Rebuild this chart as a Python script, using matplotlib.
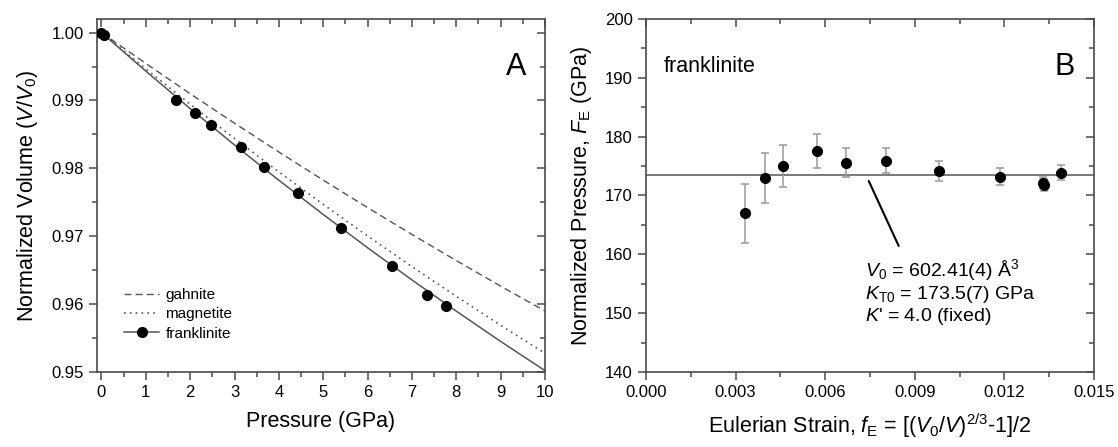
import numpy as np
import matplotlib
matplotlib.use('Agg')
import matplotlib.pyplot as plt
from matplotlib.ticker import MultipleLocator
from matplotlib.lines import Line2D

plt.rcParams['font.family'] = ['Liberation Sans', 'DejaVu Sans']
plt.rcParams['mathtext.fontset'] = 'custom'
plt.rcParams['mathtext.rm'] = 'Liberation Sans'
plt.rcParams['mathtext.it'] = 'Liberation Sans:italic'
plt.rcParams['mathtext.bf'] = 'Liberation Sans:bold'

# panel A: compression curves
pressure_grid = [0, 1, 2, 3, 4, 5, 6, 7, 8, 9, 10]
gahnite = [1.0, 0.99545, 0.99099, 0.98665, 0.98240, 0.97826, 0.97421, 0.97026, 0.96641, 0.96265, 0.95898]
magnetite = [1.0, 0.99465, 0.98945, 0.98439, 0.97947, 0.97469, 0.97004, 0.96552, 0.96114, 0.95688, 0.95275]
franklinite_fit = [1.0, 0.99432, 0.98880, 0.98344, 0.97824, 0.97320, 0.96830, 0.96356, 0.95896, 0.95450, 0.95020]

# franklinite measured
p_obs = [0.0, 0.05, 1.69, 2.11, 2.47, 3.15, 3.66, 4.43, 5.40, 6.54, 7.35, 7.77]
v_obs = [1.0, 0.9997, 0.9901, 0.9882, 0.9864, 0.9832, 0.9802, 0.9763, 0.9712, 0.9656, 0.9614, 0.9597]

# panel B: F-f plot
f_E = [0.00330, 0.00398, 0.00459, 0.00574, 0.00671, 0.00805, 0.00981, 0.01184, 0.01329, 0.01334, 0.01388]
F_E = [167.0, 173.0, 175.0, 177.5, 175.6, 175.9, 174.2, 173.2, 172.2, 171.8, 173.9]
F_err = [5.0, 4.2, 3.6, 2.9, 2.4, 2.1, 1.7, 1.4, 1.0, 1.0, 1.2]
K_T0 = 173.5

spine_col = '#4a4a4a'
fig = plt.figure(figsize=(11.18, 4.47), dpi=100)
axA = fig.add_axes([0.0868, 0.1678, 0.4007, 0.7897])
axB = fig.add_axes([0.5778, 0.1678, 0.4007, 0.7897])

def style(ax):
    for s in ax.spines.values():
        s.set_color(spine_col)
        s.set_linewidth(1.2)
    ax.tick_params(which='both', direction='out', color=spine_col, width=1.1, labelsize=12)
    ax.tick_params(which='major', length=6)
    ax.tick_params(which='minor', length=3.5)
    top = ax.secondary_xaxis('top')
    top.set_xticks(ax.get_xticks(minor=False))
    top.xaxis.set_minor_locator(ax.xaxis.get_minor_locator())
    top.tick_params(which='both', direction='in', labeltop=False, color=spine_col, width=1.1)
    top.tick_params(which='major', length=6)
    top.tick_params(which='minor', length=3.5)
    top.spines['top'].set_visible(False)
    right = ax.secondary_yaxis('right')
    right.set_yticks(ax.get_yticks(minor=False))
    right.yaxis.set_minor_locator(ax.yaxis.get_minor_locator())
    right.tick_params(which='both', direction='in', labelright=False, color=spine_col, width=1.1)
    right.tick_params(which='major', length=6)
    right.tick_params(which='minor', length=3.5)
    right.spines['right'].set_visible(False)

# ---- panel A
axA.plot(pressure_grid, gahnite, ls=(0, (5, 3)), color='#555555', lw=1.0)
axA.plot(pressure_grid, magnetite, ls=(0, (1, 2.5)), color='#555555', lw=1.2)
axA.plot(pressure_grid, franklinite_fit, '-', color='#555555', lw=1.1)
axA.plot(p_obs, v_obs, 'o', color='black', ms=7, zorder=5)
axA.set_xlim(-0.1, 10)
axA.set_ylim(0.95, 1.002)
axA.xaxis.set_major_locator(MultipleLocator(1))
axA.xaxis.set_minor_locator(MultipleLocator(0.5))
axA.yaxis.set_major_locator(MultipleLocator(0.01))
axA.yaxis.set_minor_locator(MultipleLocator(0.005))
axA.yaxis.set_major_formatter(matplotlib.ticker.FormatStrFormatter('%.2f'))
axA.set_xlabel('Pressure (GPa)', fontsize=15.5, labelpad=8)
axA.set_ylabel('Normalized Volume ($V$/$V_0$)', fontsize=15.5, labelpad=8)
axA.text(0.935, 0.865, 'A', transform=axA.transAxes, fontsize=22, ha='center', va='center')
handles = [
    Line2D([], [], ls=(0, (5, 3)), color='#555555', lw=1.0),
    Line2D([], [], ls=(0, (1, 2.5)), color='#555555', lw=1.2),
    Line2D([], [], ls='-', color='#555555', lw=1.1, marker='o', ms=7, mfc='black', mec='black'),
]
axA.legend(handles, ['gahnite', 'magnetite', 'franklinite'], loc='lower left',
           bbox_to_anchor=(0.03, 0.05), frameon=False, fontsize=11, handlelength=2.3,
           handletextpad=0.4, labelspacing=0.35, numpoints=1)
style(axA)

# ---- panel B
axB.axhline(K_T0, color='#6f6f6f', lw=1.3)
axB.errorbar(f_E, F_E, yerr=F_err, fmt='o', color='black', ms=7, ecolor='#9a9a9a',
             elinewidth=1.1, capsize=3, capthick=1.1, zorder=5)
axB.set_xlim(0, 0.015)
axB.set_ylim(140, 200)
axB.xaxis.set_major_locator(MultipleLocator(0.003))
axB.xaxis.set_minor_locator(MultipleLocator(0.0015))
axB.yaxis.set_major_locator(MultipleLocator(10))
axB.yaxis.set_minor_locator(MultipleLocator(5))
axB.xaxis.set_major_formatter(matplotlib.ticker.FormatStrFormatter('%.3f'))
axB.set_xlabel('Eulerian Strain, $f_{\\mathrm{E}}$ = [($V_0$/$V$)$^{2/3}$-1]/2', fontsize=15.5, labelpad=8)
axB.set_ylabel('Normalized Pressure, $F_{\\mathrm{E}}$ (GPa)', fontsize=15.5, labelpad=8)
axB.text(0.04, 0.865, 'franklinite', transform=axB.transAxes, fontsize=15.5, ha='left', va='center')
axB.text(0.935, 0.865, 'B', transform=axB.transAxes, fontsize=22, ha='center', va='center')
axB.annotate('', xy=(0.00742, 172.9), xytext=(0.00850, 161.0),
             arrowprops=dict(arrowstyle='-', color='black', lw=1.5))
axB.text(0.00732, 157.3, '$V_0$ = 602.41(4) Å$^3$', fontsize=14, ha='left', va='center')
axB.text(0.00732, 153.2, '$K_{\\mathrm{T0}}$ = 173.5(7) GPa', fontsize=14, ha='left', va='center')
axB.text(0.00732, 149.4, "$K$' = 4.0 (fixed)", fontsize=14, ha='left', va='center')
style(axB)

fig.savefig('out.png', dpi=100)
